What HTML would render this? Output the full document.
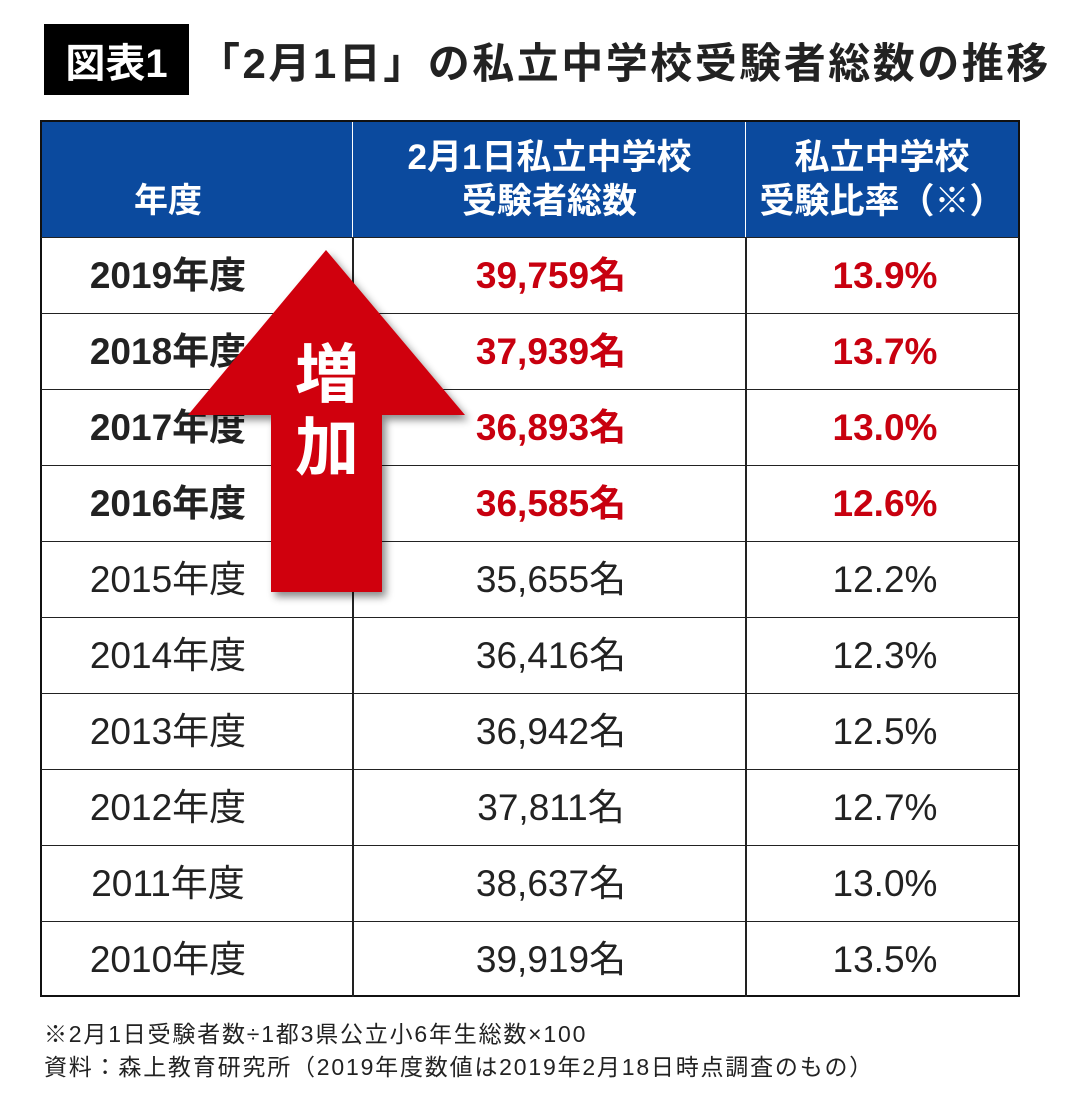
<!DOCTYPE html>
<html><head><meta charset="utf-8"><style>
*{margin:0;padding:0;box-sizing:border-box}
body{width:1080px;height:1112px;background:#fff;position:relative;overflow:hidden;font-family:"Liberation Sans","Noto Sans CJK JP",sans-serif;color:#222}
.abs{position:absolute}
.cell{position:absolute;display:flex;align-items:center;justify-content:center;font-size:37px;white-space:nowrap;line-height:1}
.hline{position:absolute;left:41px;width:978px;height:1.5px;background:#222}
.vline{position:absolute;width:1.5px;background:#222}
</style></head><body>
<div class="abs" style="left:44px;top:24px;width:145px;height:71px;background:#000;color:#fff;font-weight:bold;font-size:40px;display:flex;align-items:center;justify-content:center">図表1</div>
<div class="abs" style="left:198px;top:30px;font-size:42px;font-weight:bold;letter-spacing:2.5px;white-space:nowrap">「2月1日」の私立中学校受験者総数の推移</div>

<div class="abs" style="left:40px;top:120px;width:980px;height:877px;border:2px solid #111"></div>
<div class="abs" style="left:42px;top:122px;width:976px;height:115px;background:#0b4a9e"></div>
<div class="cell" style="left:42px;top:165px;width:252px;height:72px;color:#fff;font-weight:bold;font-size:34px">年度</div>
<div class="cell" style="left:353px;top:122px;width:393px;height:115px;color:#fff;font-weight:bold;font-size:35px;line-height:1.25;text-align:center">2月1日私立中学校<br>受験者総数</div>
<div class="cell" style="left:746px;top:122px;width:272px;height:115px;color:#fff;font-weight:bold;font-size:35px;line-height:1.25;text-align:center">私立中学校<br>受験比率（※）</div>

<div id="rows"></div>

<svg class="abs" style="left:0;top:0" width="1080" height="1112">
<defs><filter id="sh" x="-20%" y="-20%" width="140%" height="140%"><feDropShadow dx="4" dy="5" stdDeviation="4" flood-color="#000" flood-opacity="0.45"/></filter></defs>
<polygon points="326,250 465,415 382,415 382,592 271,592 271,415 188,415" fill="#d0000f" filter="url(#sh)"/>
<text x="327" y="397" text-anchor="middle" font-size="64" font-weight="bold" fill="#fff" font-family="Liberation Sans,Noto Sans CJK JP,sans-serif">増</text>
<text x="327" y="470" text-anchor="middle" font-size="64" font-weight="bold" fill="#fff" font-family="Liberation Sans,Noto Sans CJK JP,sans-serif">加</text>
</svg>

<div class="abs" style="left:44px;top:1015px;font-size:23px;letter-spacing:1.8px;white-space:nowrap">※2月1日受験者数÷1都3県公立小6年生総数×100</div>
<div class="abs" style="left:44px;top:1048px;font-size:23px;letter-spacing:1.8px;white-space:nowrap">資料：森上教育研究所（2019年度数値は2019年2月18日時点調査のもの）</div>

<script>
const years=["2019年度","2018年度","2017年度","2016年度","2015年度","2014年度","2013年度","2012年度","2011年度","2010年度"];
const totals=["39,759名","37,939名","36,893名","36,585名","35,655名","36,416名","36,942名","37,811名","38,637名","39,919名"];
const ratios=["13.9%","13.7%","13.0%","12.6%","12.2%","12.3%","12.5%","12.7%","13.0%","13.5%"];
const highlighted=[true,true,true,true,false,false,false,false,false,false];
const root=document.getElementById('rows');
const top0=237,rh=76;
function mk(cls,style,txt){const d=document.createElement('div');d.className=cls;d.style.cssText=style;if(txt)d.textContent=txt;root.appendChild(d);return d;}
for(let i=0;i<years.length;i++){
  const y=top0+i*rh;
  const l=mk('hline','top:'+(y-0.5)+'px');
  
  
  const b=highlighted[i]?'font-weight:bold;':'';
  const red=highlighted[i]?'color:#c8000f;':'';
  const c1=mk('cell','left:42px;top:'+y+'px;width:252px;height:'+rh+'px;'+b,years[i]);
  
  
  const c2=mk('cell','left:353px;top:'+y+'px;width:396px;height:'+rh+'px;'+b+red,totals[i]);
  
  
  const c3=mk('cell','left:746px;top:'+y+'px;width:278px;height:'+rh+'px;'+b+red,ratios[i]);
  
  
}
const v1=mk('vline','left:352px;top:237px;height:760px');


const v2=mk('vline','left:745px;top:237px;height:760px');


const vh1=mk('vline','left:352px;top:122px;height:115px;background:#fff;width:1px');


const vh2=mk('vline','left:745px;top:122px;height:115px;background:#fff;width:1px');


</script>
</body></html>
